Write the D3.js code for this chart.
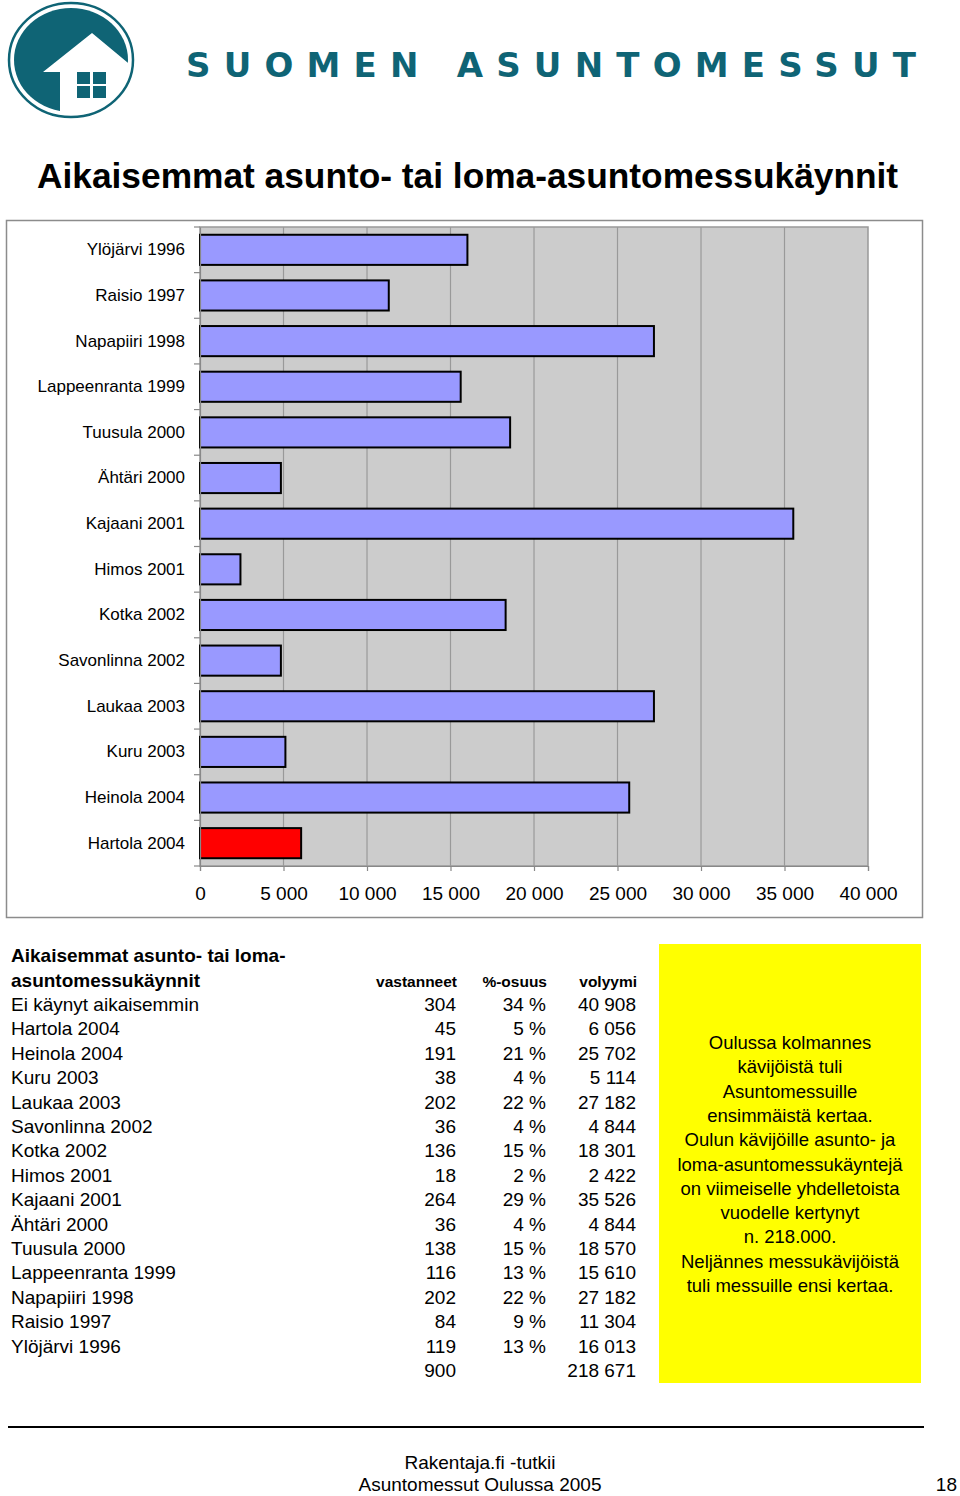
<!doctype html>
<html>
<head>
<meta charset="utf-8">
<title>Aikaisemmat asunto- tai loma-asuntomessukäynnit</title>
<style>
  body { margin:0; background:#fff; }
  svg { display:block; font-family:"Liberation Sans", Arial, sans-serif; }
  .lbl { font-size:19px; }
  .bold { font-weight:bold; }
</style>
<script src="https://cdn.jsdelivr.net/npm/d3@7"></script>
</head>
<body>
<svg id="page" width="960" height="1496"></svg>
<script>
// taulukon rivit (ylhäältä alas)
var rivit = ["Ei käynyt aikaisemmin", "Hartola 2004", "Heinola 2004", "Kuru 2003", "Laukaa 2003",
  "Savonlinna 2002", "Kotka 2002", "Himos 2001", "Kajaani 2001", "Ähtäri 2000", "Tuusula 2000",
  "Lappeenranta 1999", "Napapiiri 1998", "Raisio 1997", "Ylöjärvi 1996"]
var vastanneet = [304, 45, 191, 38, 202, 36, 136, 18, 264, 36, 138, 116, 202, 84, 119]
var osuus = [34, 5, 21, 4, 22, 4, 15, 2, 29, 4, 15, 13, 22, 9, 13]
var volyymi = [40908, 6056, 25702, 5114, 27182, 4844, 18301, 2422, 35526, 4844, 18570, 15610, 27182, 11304, 16013]
var yhteensa = [900, 218671]
var xTicks = [0, 5000, 10000, 15000, 20000, 25000, 30000, 35000, 40000]
var korostus = "Hartola 2004"
var laatikkoTeksti = ["Oulussa kolmannes", "kävijöistä tuli", "Asuntomessuille", "ensimmäistä kertaa.",
  "Oulun kävijöille asunto- ja", "loma-asuntomessukäyntejä", "on viimeiselle yhdelletoista",
  "vuodelle kertynyt", "n. 218.000.", "Neljännes messukävijöistä", "tuli messuille ensi kertaa."]

var svg = d3.select("#page")
var teal = "#0f6475"
var fmt = function(d) { return d3.format(",")(d).replace(/,/g, " ") }

// logo
var logo = svg.append("g")
logo.append("ellipse").attr("cx", 71).attr("cy", 60).attr("rx", 57).attr("ry", 52).attr("fill", teal)
logo.append("clipPath").attr("id", "clipE")
  .append("ellipse").attr("cx", 71).attr("cy", 60).attr("rx", 58).attr("ry", 53)
logo.append("polygon")
  .attr("points", "92,33 43,72 60,72 60,125 140,125 140,73")
  .attr("fill", "#fff").attr("clip-path", "url(#clipE)")
logo.append("ellipse").attr("cx", 71).attr("cy", 60).attr("rx", 62).attr("ry", 57)
  .attr("fill", "none").attr("stroke", teal).attr("stroke-width", 2.5)
var ikkuna = [[77, 72], [93, 72], [77, 86], [93, 86]]
logo.selectAll("rect.ik").data(ikkuna).enter().append("rect")
  .attr("x", function(d) { return d[0] }).attr("y", function(d) { return d[1] })
  .attr("width", 13).attr("height", 12).attr("fill", teal)

svg.append("text").attr("x", 186).attr("y", 77)
  .attr("textLength", 730).attr("lengthAdjust", "spacing")
  .style("font-family", "'DejaVu Sans', sans-serif").style("font-weight", "bold")
  .style("font-size", "34px").attr("fill", teal)
  .text("SUOMEN ASUNTOMESSUT")

// otsikko
svg.append("text").attr("x", 37).attr("y", 188).attr("class", "bold")
  .style("font-size", "35.3px").text("Aikaisemmat asunto- tai loma-asuntomessukäynnit")

// kaavio
svg.append("rect").attr("x", 6.5).attr("y", 220.5).attr("width", 916).attr("height", 697)
  .attr("fill", "#fff").attr("stroke", "#8c8c8c").attr("stroke-width", 1.5)

var kat = rivit.slice(1).reverse()
var arvot = volyymi.slice(1).reverse()
var data = kat.map(function(k, i) { return { nimi: k, arvo: arvot[i] } })

var x = d3.scaleLinear().domain([0, 40000]).range([200, 868])
var y = d3.scaleBand().domain(kat).range([227, 866]).paddingInner(0.34).paddingOuter(0.17)

svg.append("rect").attr("x", x(0)).attr("y", 227).attr("width", x(40000) - x(0)).attr("height", 866 - 227)
  .attr("fill", "#cccccc").attr("stroke", "#999").attr("stroke-width", 1.5)

svg.selectAll("line.grid").data(xTicks.slice(1, -1)).enter().append("line")
  .attr("x1", function(d) { return x(d) }).attr("x2", function(d) { return x(d) })
  .attr("y1", 227).attr("y2", 866).attr("stroke", "#999").attr("stroke-width", 1.2)

// y-akselin jakoviivat kategorioiden rajoilla
svg.selectAll("line.yt").data(d3.range(kat.length + 1)).enter().append("line")
  .attr("x1", 194).attr("x2", 200)
  .attr("y1", function(i) { return 227 + i * y.step() }).attr("y2", function(i) { return 227 + i * y.step() })
  .attr("stroke", "#888").attr("stroke-width", 1.2)

svg.selectAll("rect.bar").data(data).enter().append("rect")
  .attr("x", x(0)).attr("y", function(d) { return y(d.nimi) })
  .attr("width", function(d) { return x(d.arvo) - x(0) }).attr("height", y.bandwidth())
  .attr("fill", function(d) { return d.nimi == korostus ? "#ff0000" : "#9999ff" })
  .attr("stroke", "#000").attr("stroke-width", 2)

var ya = svg.append("g").attr("transform", "translate(200,0)")
  .call(d3.axisLeft(y).tickSize(0).tickPadding(15))
ya.select(".domain").attr("stroke", "#888").attr("stroke-width", 1.2)
ya.selectAll("text").style("font-size", "17px").style("font-family", "'Liberation Sans', Arial, sans-serif").attr("fill", "#000")

var xa = svg.append("g").attr("transform", "translate(0,866)")
  .call(d3.axisBottom(x).tickValues(xTicks).tickFormat(fmt).tickSize(5).tickPadding(16))
xa.selectAll("line, .domain").attr("stroke", "#888").attr("stroke-width", 1.2)
xa.selectAll("text").style("font-size", "19px").style("font-family", "'Liberation Sans', Arial, sans-serif").attr("fill", "#000")

// taulukko
var tb = svg.append("g")
tb.append("text").attr("x", 11).attr("y", 962).attr("class", "bold").style("font-size", "19px")
  .text("Aikaisemmat asunto- tai loma-")
tb.append("text").attr("x", 11).attr("y", 987).attr("class", "bold").style("font-size", "19px")
  .text("asuntomessukäynnit")
var sarakkeet = [["vastanneet", 457], ["%-osuus", 547], ["volyymi", 637]]
tb.selectAll("text.sh").data(sarakkeet).enter().append("text")
  .attr("x", function(d) { return d[1] }).attr("y", 987).attr("text-anchor", "end")
  .attr("class", "bold").style("font-size", "15.5px").text(function(d) { return d[0] })

var rowY = d3.scaleLinear().domain([0, 1]).range([1011, 1035.4])
var r = tb.selectAll("g.row").data(rivit).enter().append("g")
  .attr("transform", function(d, i) { return "translate(0," + rowY(i) + ")" })
r.append("text").attr("x", 11).attr("class", "lbl").text(function(d) { return d })
r.append("text").attr("x", 456).attr("text-anchor", "end").attr("class", "lbl")
  .text(function(d, i) { return vastanneet[i] })
r.append("text").attr("x", 546).attr("text-anchor", "end").attr("class", "lbl")
  .text(function(d, i) { return osuus[i] + " %" })
r.append("text").attr("x", 636).attr("text-anchor", "end").attr("class", "lbl")
  .text(function(d, i) { return fmt(volyymi[i]) })
tb.append("text").attr("x", 456).attr("y", rowY(rivit.length)).attr("text-anchor", "end").attr("class", "lbl").text(yhteensa[0])
tb.append("text").attr("x", 636).attr("y", rowY(rivit.length)).attr("text-anchor", "end").attr("class", "lbl").text(fmt(yhteensa[1]))

// keltainen laatikko
svg.append("rect").attr("x", 659).attr("y", 944).attr("width", 262).attr("height", 439).attr("fill", "#ffff00")
svg.selectAll("text.box").data(laatikkoTeksti).enter().append("text")
  .attr("x", 790).attr("y", function(d, i) { return 1049 + i * 24.3 })
  .attr("text-anchor", "middle").style("font-size", "18.5px").text(function(d) { return d })

// alatunniste
svg.append("line").attr("x1", 8).attr("x2", 924).attr("y1", 1427).attr("y2", 1427)
  .attr("stroke", "#000").attr("stroke-width", 2)
svg.append("text").attr("x", 480).attr("y", 1469).attr("text-anchor", "middle").attr("class", "lbl").text("Rakentaja.fi -tutkii")
svg.append("text").attr("x", 480).attr("y", 1491).attr("text-anchor", "middle").attr("class", "lbl").text("Asuntomessut Oulussa 2005")
svg.append("text").attr("x", 957).attr("y", 1491).attr("text-anchor", "end").attr("class", "lbl").text("18")
</script>
</body>
</html>
